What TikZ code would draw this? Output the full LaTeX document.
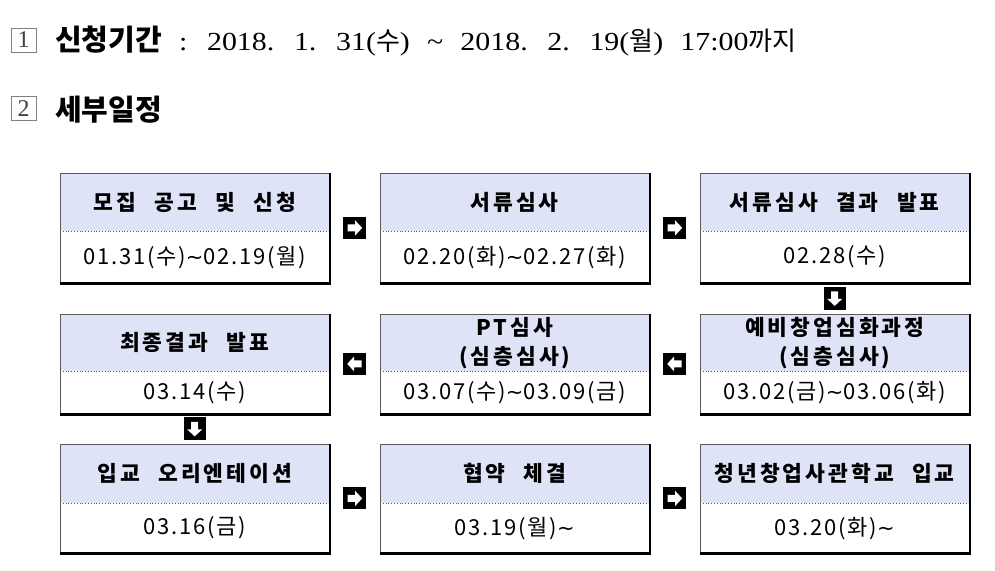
\documentclass[tikz,border=0pt]{standalone}
\usepackage{fontspec}
\usepackage{tikz}
\usetikzlibrary{
  calc,
  positioning
}
\setmainfont{Liberation Serif}
\newfontfamily\titlefont{Liberation Serif}[WordSpace=2.3, FakeStretch=1.15]
\newfontfamily\krfont{Noto Sans CJK KR}
\newfontfamily\headkr{Noto Sans CJK KR}[WordSpace=2.3, LetterSpace=14]
\newfontfamily\datekr{Noto Sans CJK KR}[LetterSpace=8]
\newfontfamily\symfont{DejaVu Sans}
\definecolor{headfill}{HTML}{DEE3F7}
\definecolor{edgegray}{HTML}{5A5A5A}

\tikzset{
  head/.style={minimum width=269pt, inner sep=0pt, fill=headfill, align=center,
    font=\headkr\bfseries\fontsize{21.5}{29}\selectfont},
  date/.style={minimum width=269pt, inner sep=0pt, fill=white,
    font=\datekr\fontsize{22}{26}\selectfont},
  boxedge/.style={edgegray, line width=1pt},
  divider/.style={edgegray, line width=0.8pt, dotted},
  boxshadow/.style={black, line width=2.4pt},
  numbox/.style={draw=gray, line width=0.8pt, minimum width=25pt, minimum height=24pt,
    inner sep=0pt, text=black!75, font=\fontsize{24}{24}\selectfont},
  goarrow/.pic={
    \fill[black] (-11.5,-11) rectangle (11.5,11);
    \fill[white] (-7,-3.5) -- (0.5,-3.5) -- (0.5,-7.5) -- (7.5,0)
      -- (0.5,7.5) -- (0.5,3.5) -- (-7,3.5) -- cycle;
  }
}

% one schedule box: name, top left corner, title, date, heights
\newcommand{\schedbox}[6]{%
  \node[head, minimum height=#5pt, anchor=north west] (#1h) at (#2) {#3};
  \node[date, minimum height=#6pt, below=0pt of #1h] (#1d) {#4};
  \draw[boxedge] (#1h.north west) rectangle (#1d.south east);
  \draw[divider] (#1h.south west) -- (#1h.south east);
  \draw[boxshadow] ([shift={(0.6pt,0pt)}]#1h.north east)
    -- ([shift={(0.6pt,-0.6pt)}]#1d.south east)
    -- ([shift={(0pt,-0.6pt)}]#1d.south west);
}
\newcommand{\wave}{{\symfont\fontsize{21}{26}\selectfont ∼}}

\begin{document}
\begin{tikzpicture}[x=1pt, y=-1pt]
  \useasboundingbox[fill=white] (0,0) rectangle (995,570);

  % heading lines
  \node[numbox] (n1) at (23.5,40) {1};
  \node[anchor=base west, inner sep=0pt, font=\titlefont\fontsize{26}{30}\selectfont]
    (period) at (55,50)
    {{\krfont\bfseries\fontsize{29}{30}\selectfont 신청기간} : 2018. 1. 31({\krfont 수}) \textasciitilde{} 2018. 2. 19({\krfont 월}) 17:00{\krfont 까지}};
  \node[numbox] (n2) at (23.5,108.5) {2};
  \node[anchor=base west, inner sep=0pt, font=\krfont\bfseries\fontsize{29}{30}\selectfont]
    (detail) at (55,120) {세부일정};

  % first row
  \schedbox{apply}{60,173}{모집 공고 및 신청}{01.31(수)\wave02.19(월)}{58}{51}
  \schedbox{doc}{380,173}{서류심사}{02.20(화)\wave02.27(화)}{58}{51}
  \schedbox{docres}{700,173}{서류심사 결과 발표}{02.28(수)}{58}{51}

  % second row, right to left
  \schedbox{deep}{700,314}{예비창업심화과정\\(심층심사)}{03.02(금)\wave03.06(화)}{57}{42}
  \schedbox{pt}{380,314}{PT심사\\(심층심사)}{03.07(수)\wave03.09(금)}{57}{42}
  \schedbox{final}{60,314}{최종결과 발표}{03.14(수)}{57}{42}

  % third row
  \schedbox{orient}{60,444}{입교 오리엔테이션}{03.16(금)}{59}{49}
  \schedbox{contract}{380,444}{협약 체결}{03.19(월)\wave}{59}{49}
  \schedbox{enter}{700,444}{청년창업사관학교 입교}{03.20(화)\wave}{59}{49}

  % arrows between boxes
  \pic at ($(applyh.north east)!0.5!(docd.south west)$) {goarrow};
  \pic at ($(doch.north east)!0.5!(docresd.south west)$) {goarrow};
  \pic[rotate=-90] at ($(docresd.south)!0.5!(deeph.north)$) {goarrow};
  \pic[rotate=180] at ($(pth.north east)!0.5!(deepd.south west)$) {goarrow};
  \pic[rotate=180] at ($(finalh.north east)!0.5!(ptd.south west)$) {goarrow};
  \pic[rotate=-90] at ($(finald.south)!0.5!(orienth.north)$) {goarrow};
  \pic at ($(orienth.north east)!0.5!(contractd.south west)$) {goarrow};
  \pic at ($(contracth.north east)!0.5!(enterd.south west)$) {goarrow};
\end{tikzpicture}
\end{document}
